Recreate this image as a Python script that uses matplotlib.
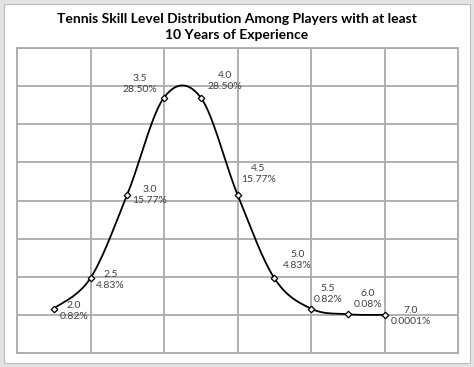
import numpy as np
import matplotlib.pyplot as plt
from matplotlib.patches import Rectangle

# skill levels (categorical, equally spaced) and share of players in %
levels = ['2.0', '2.5', '3.0', '3.5', '4.0', '4.5', '5.0', '5.5', '6.0', '7.0']
pct = [0.82, 4.83, 15.77, 28.50, 28.50, 15.77, 4.83, 0.82, 0.08, 0.0001]
pct_labels = ['0.82%', '4.83%', '15.77%', '28.50%', '28.50%', '15.77%',
              '4.83%', '0.82%', '0.08%', '0.0001%']
# label offsets in pixels (dx, dy) from each point
offsets = [(20, -2), (20, -2), (22, 0), (-24, 14), (24, 17), (21, 21),
           (23, 18), (17, 15), (20, 15), (26, -1)]

title = 'Tennis Skill Level Distribution Among Players with at least\n10 Years of Experience'


def smooth(x, y, n=40):
    # catmull-rom style smoothing like the spreadsheet "smoothed line"
    x = np.asarray(x, float)
    y = np.asarray(y, float)
    xp = np.concatenate([[x[0]], x, [x[-1]]])
    yp = np.concatenate([[y[0]], y, [y[-1]]])
    xs, ys = [], []
    for i in range(len(x) - 1):
        p0x, p1x, p2x, p3x = xp[i], xp[i + 1], xp[i + 2], xp[i + 3]
        p0y, p1y, p2y, p3y = yp[i], yp[i + 1], yp[i + 2], yp[i + 3]
        c1x = p1x + (p2x - p0x) / 6
        c1y = p1y + (p2y - p0y) / 6
        c2x = p2x - (p3x - p1x) / 6
        c2y = p2y - (p3y - p1y) / 6
        t = np.linspace(0, 1, n)
        a = (1 - t) ** 3
        b = 3 * (1 - t) ** 2 * t
        c = 3 * (1 - t) * t ** 2
        d = t ** 3
        xs.append(a * p1x + b * c1x + c * c2x + d * p2x)
        ys.append(a * p1y + b * c1y + c * c2y + d * p2y)
    return np.concatenate(xs), np.concatenate(ys)


plt.rcParams['font.family'] = ['Lato', 'DejaVu Sans']

fig = plt.figure(figsize=(4.74, 3.67), dpi=100, facecolor='#e3e3e3')
fig.patches.append(Rectangle((4 / 474, 4 / 367), 466 / 474, 359 / 367,
                             transform=fig.transFigure, facecolor='white',
                             edgecolor='#bdbdbd', lw=0.8, zorder=-5))

ax = fig.add_axes([17 / 474, 1 - 353 / 367, 441 / 474, 305 / 367])
ax.set_facecolor('white')

x = np.arange(len(levels))
sx, sy = smooth(x, pct)
ax.plot(sx, sy, color='black', lw=1.3, zorder=3)
ax.plot(x, pct, linestyle='none', marker='D', markersize=3.3,
        markerfacecolor='white', markeredgecolor='black', markeredgewidth=0.9,
        zorder=4)

for i in range(len(levels)):
    ax.annotate(levels[i] + '\n' + pct_labels[i], (x[i], pct[i]),
                xytext=offsets[i], textcoords='offset pixels',
                ha='center', va='center', fontsize=7.5, color='#404040',
                linespacing=1.3, zorder=5)

ax.set_xlim(-1, 11)
ax.set_ylim(-5, 35)
ax.set_xticks(np.arange(-1, 12, 2))
ax.set_yticks(np.arange(-5, 36, 5))
ax.tick_params(length=0, labelbottom=False, labelleft=False)
ax.grid(True, color='#ababab', lw=1.3)
for s in ax.spines.values():
    s.set_color('#ababab')
    s.set_linewidth(1.3)

fig.text(0.5, 1 - 27 / 367, title, ha='center', va='center',
         fontsize=10, fontweight='bold', color='black', linespacing=1.35)

fig.savefig('out.png', dpi=100, facecolor=fig.get_facecolor())
